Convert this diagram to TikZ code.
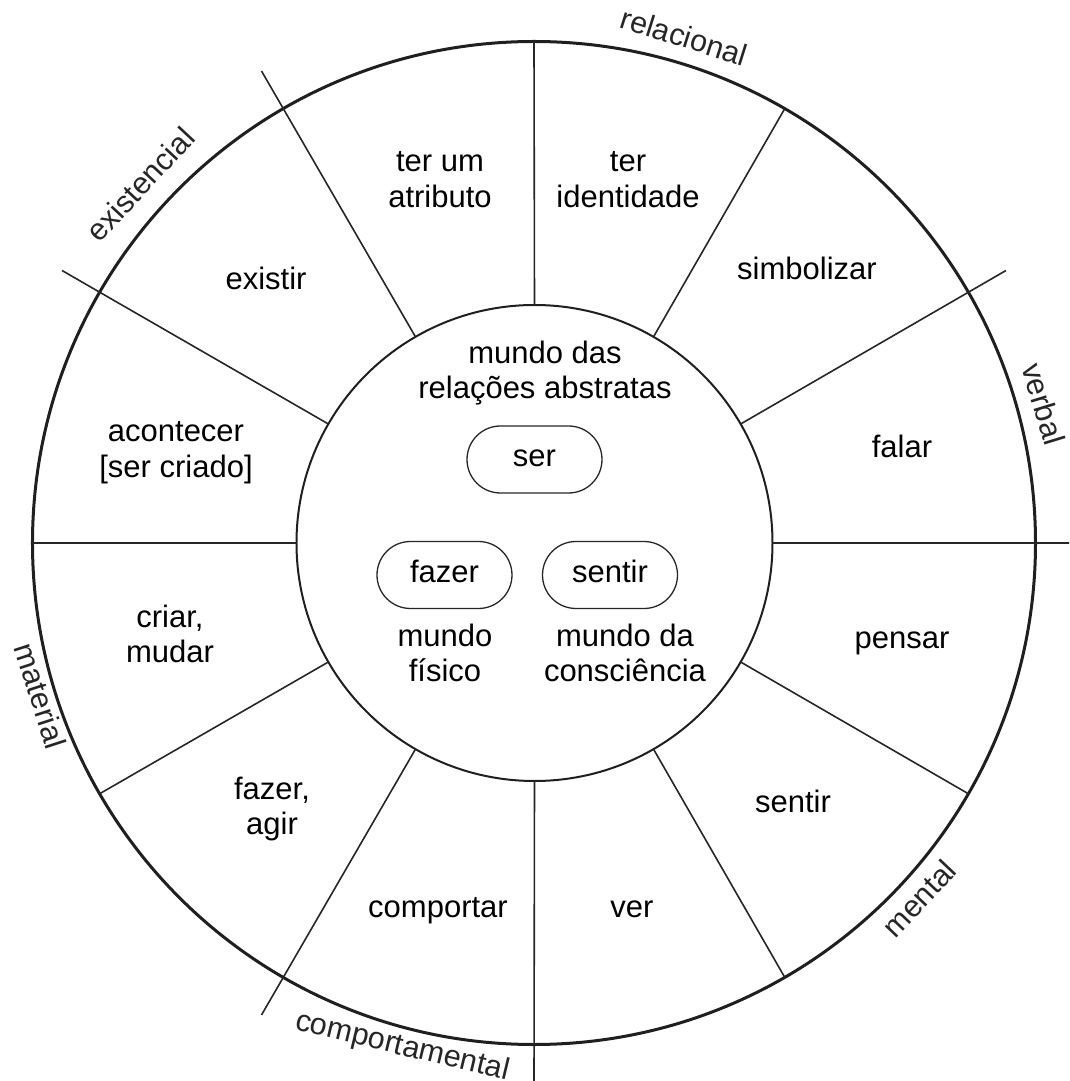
\documentclass[tikz,border=0pt]{standalone}
\usepackage{fontspec}
\setmainfont{Liberation Sans}
\usetikzlibrary{shapes.misc}
\begin{document}
\begin{tikzpicture}[x=1pt,y=1pt,
  lbl/.style={font=\fontsize{31}{35.5}\selectfont, align=center, inner sep=0pt, outer sep=0pt,
    execute at begin node=\strut, execute at end node=\strut},
  cat/.style={font=\fontsize{30.5}{35}\selectfont, inner sep=0pt, text=black!85,
    execute at begin node=\strut},
  pill/.style={draw=black!85, line width=1.3pt, rounded rectangle, minimum width=135pt,
    minimum height=67pt, inner sep=0pt, font=\fontsize{31}{35.5}\selectfont,
    execute at begin node=\strut},
  ring/.style={draw=black!88, circle, outer sep=0pt, inner sep=0pt},
  spoke/.style={line width=1.6pt, draw=black!85}
]
\useasboundingbox (-534,-538) rectangle (535,543);
\clip (-534,-538) rectangle (535,543);
% rings
\node[ring, line width=3pt, minimum size=1003pt] (wheel) at (0,0) {};
\node[ring, line width=2pt, minimum size=476pt] (core) at (0.5,0) {};
% spokes inside a process type
\foreach \a in {60,90,180,210,300,330}
  \draw[spoke] (core.\a) -- (wheel.\a);
% spokes at the borders of the process types
\foreach \a in {0,30,120,150,240,270}{
  \coordinate (tick\a) at (\a:545);
  \draw[spoke] (core.\a) -- (tick\a);
}
% sector texts
\node[lbl] (atrib)   at (-94,358)   {ter um\\atributo};
\node[lbl] (ident)   at (94,358)    {ter\\identidade};
\node[lbl] (simb)    at (273,271)   {simbolizar};
\node[lbl] (falar)   at (368,93)    {falar};
\node[lbl] (pensar)  at (368,-98)   {pensar};
\node[lbl] (sentirO) at (259,-262)  {sentir};
\node[lbl] (ver)     at (98,-367)   {ver};
\node[lbl] (comp)    at (-96,-367)  {comportar};
\node[lbl] (fazerO)  at (-262,-268) {fazer,\\agir};
\node[lbl] (criar)   at (-364,-96)  {criar,\\mudar};
\node[lbl] (acont)   at (-358,88)   {acontecer\\{[}ser criado{]}};
\node[lbl] (exist)   at (-268,261)  {existir};
% core texts
\node[lbl] (abstr)  at (11,168)   {mundo das\\relações abstratas};
\node[pill] (ser)    at (0.5,83.5) {ser};
\node[pill] (fazer)  at (-89.5,-32) {fazer};
\node[pill] (sentir) at (76,-32)   {sentir};
\node[lbl] (fisico) at (-89,-115)  {mundo\\físico};
\node[lbl] (consc)  at (91,-115)   {mundo da\\consciência};
% process types
\node[cat, rotate=-17.5] (relac) at (149,503)   {relacional};
\node[cat, rotate=47]    (exis)  at (-391,356)  {existencial};
\node[cat, rotate=-73]   (verb)  at (506,138)   {verbal};
\node[cat, rotate=46.5]  (ment)  at (388,-358)  {mental};
\node[cat, rotate=-13.5] (compt) at (-132,-505) {comportamental};
\node[cat, rotate=-72]   (mater) at (-497,-154) {material};
\end{tikzpicture}
\end{document}
